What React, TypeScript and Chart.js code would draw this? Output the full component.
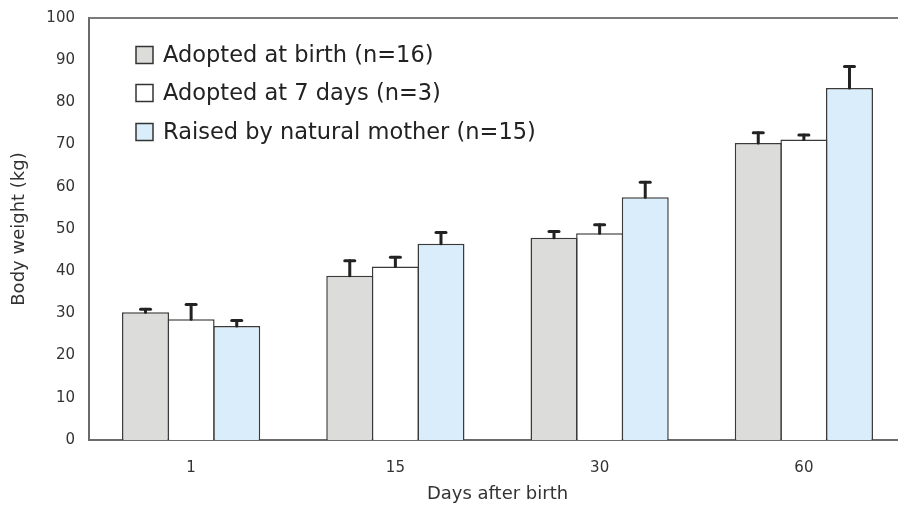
import React, { useEffect, useRef } from "react";
import { Chart, registerables } from "chart.js";

Chart.register(...registerables);

const categories = ["1", "15", "30", "60"];
const seriesLabels = [
  "Adopted at birth (n=16)",
  "Adopted at 7 days (n=3)",
  "Raised by natural mother (n=15)",
];
const adoptedAtBirth = [30.3, 38.9, 47.9, 70.4];
const adoptedAtBirthErr = [0.7, 3.6, 1.5, 2.4];
const adoptedAt7Days = [28.6, 41.1, 49.0, 71.2];
const adoptedAt7DaysErr = [3.5, 2.2, 2.0, 1.1];
const naturalMother = [27.0, 46.5, 57.5, 83.4];
const naturalMotherErr = [1.3, 2.7, 3.6, 5.1];
const yTicks = [0, 10, 20, 30, 40, 50, 60, 70, 80, 90, 100];

const FONT = "'DejaVu Sans', sans-serif";
const fills = ["#dcdcda", "#ffffff", "#daedfb"];
const SHIFT = 5;

const errorBarPlugin = {
  id: "errorBars",
  afterDatasetsDraw(chart: any) {
    const ctx = chart.ctx;
    const yScale = chart.scales.y;
    chart.data.datasets.forEach((ds: any, di: number) => {
      const meta = chart.getDatasetMeta(di);
      meta.data.forEach((el: any, i: number) => {
        const v = ds.data[i];
        const e = ds.errors[i];
        const yTop = el.y;
        const yE = yScale.getPixelForValue(v + e);
        ctx.save();
        ctx.strokeStyle = "#222";
        ctx.lineCap = "round";
        ctx.lineWidth = 3;
        ctx.beginPath();
        ctx.moveTo(el.x, yTop);
        ctx.lineTo(el.x, yE);
        ctx.stroke();
        ctx.beginPath();
        ctx.moveTo(el.x - 5, yE);
        ctx.lineTo(el.x + 5, yE);
        ctx.stroke();
        ctx.restore();
      });
    });
  },
};

const framePlugin = {
  id: "frameAndLegend",
  afterDraw(chart: any) {
    const ctx = chart.ctx;
    const area = chart.chartArea;
    ctx.save();
    ctx.strokeStyle = "#7a7a7a";
    ctx.lineWidth = 2;
    ctx.beginPath();
    ctx.moveTo(area.left, area.top);
    ctx.lineTo(area.right, area.top);
    ctx.stroke();

    const rowsY = [55 + SHIFT, 93 + SHIFT, 132 + SHIFT];
    ctx.font = `22.5px ${FONT}`;
    ctx.textBaseline = "middle";
    chart.data.datasets.forEach((ds: any, i: number) => {
      const y = rowsY[i];
      ctx.fillStyle = ds.backgroundColor;
      ctx.fillRect(136, y - 8.5, 17, 17);
      ctx.strokeStyle = "#333";
      ctx.lineWidth = 1.5;
      ctx.strokeRect(136, y - 8.5, 17, 17);
      ctx.fillStyle = "#222";
      ctx.fillText(ds.label, 163, y + 1);
    });
    ctx.restore();
  },
};

export default function App() {
  const ref = useRef<HTMLCanvasElement>(null);
  useEffect(() => {
    if (!ref.current) return;
    const chart = new Chart(ref.current, {
      type: "bar",
      data: {
        labels: categories,
        datasets: [
          { label: seriesLabels[0], data: adoptedAtBirth, errors: adoptedAtBirthErr, backgroundColor: fills[0] },
          { label: seriesLabels[1], data: adoptedAt7Days, errors: adoptedAt7DaysErr, backgroundColor: fills[1] },
          { label: seriesLabels[2], data: naturalMother, errors: naturalMotherErr, backgroundColor: fills[2] },
        ].map((d: any) => ({
          ...d,
          borderColor: "#3a3a3a",
          borderWidth: 1.5,
          borderSkipped: "bottom",
          inflateAmount: 0,
          categoryPercentage: 0.67,
          barPercentage: 1.03,
        })),
      },
      options: {
        animation: false,
        responsive: false,
        layout: { padding: { top: 11, left: 0, right: 0, bottom: 0 } },
        plugins: { legend: { display: false }, tooltip: { enabled: false } },
        scales: {
          x: {
            grid: { display: false, drawTicks: false },
            border: { display: true, color: "#6a6a6a", width: 2 },
            ticks: { color: "#333", font: { family: FONT, size: 15 }, padding: 19 },
            title: {
              display: true,
              text: "Days after birth",
              color: "#333",
              font: { family: FONT, size: 18 },
              padding: { top: 0, bottom: 10 },
            },
            afterFit(scale: any) {
              scale.height = 75;
            },
          },
          y: {
            min: 0,
            max: 100,
            grid: { display: false, drawTicks: false },
            border: { display: true, color: "#6a6a6a", width: 2 },
            afterBuildTicks(scale: any) {
              scale.ticks = yTicks.map((v) => ({ value: v }));
            },
            ticks: { color: "#333", font: { family: FONT, size: 15 }, padding: 14 },
            title: {
              display: true,
              text: "Body weight (kg)",
              color: "#333",
              font: { family: FONT, size: 18 },
              padding: { top: 9, bottom: 0 },
            },
            afterFit(scale: any) {
              scale.width = 89;
            },
          },
        },
      } as any,
      plugins: [errorBarPlugin, framePlugin],
    } as any);
    return () => chart.destroy();
  }, []);
  return (
    <div style={{ position: "absolute", left: 0, top: 0, width: 898, height: 515, overflow: "hidden", background: "#fff" }}>
      <canvas
        ref={ref}
        width={906}
        height={515 + SHIFT}
        style={{ width: 906, height: 515 + SHIFT, display: "block", marginTop: -SHIFT }}
      />
    </div>
  );
}
